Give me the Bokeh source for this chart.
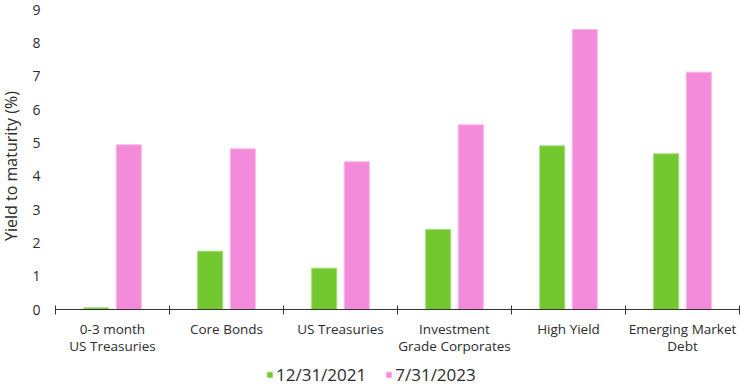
from bokeh.plotting import figure
from bokeh.models import Range1d, FixedTicker, Legend, LegendItem, ColumnDataSource
from bokeh.embed import file_html
from bokeh.resources import INLINE

# ---- data ----
categories = ["0-3 month\nUS Treasuries", "Core Bonds", "US Treasuries",
              "Investment\nGrade Corporates", "High Yield", "Emerging Market\nDebt"]
yield_2021 = [0.05, 1.75, 1.24, 2.40, 4.91, 4.67]
yield_2023 = [4.94, 4.82, 4.43, 5.54, 8.40, 7.12]
series_labels = ["12/31/2021", "7/31/2023"]
y_ticks = [0, 1, 2, 3, 4, 5, 6, 7, 8, 9]
y_title = "Yield to maturity (%)"

# ---- style ----
GREEN = "#73C72F"
GREEN_EDGE = "#A3DD7C"
PINK = "#F48ADA"
PINK_EDGE = "#F9B8EA"
TEXT = "#2B2B2B"
FONT = "Open Sans"

W, H = 740, 386
# plotting area in page pixels
PX_LEFT, PX_RIGHT, PX_TOP, PX_ZERO = 55, 739, 9, 309

n = len(categories)
centers = [i + 0.5 for i in range(n)]
off = 0.143
bw = 0.22

# extend ranges so that the whole figure is the frame (axes drawn inside)
xs = (PX_RIGHT - PX_LEFT) / n
ys = (PX_ZERO - PX_TOP) / (y_ticks[-1] - y_ticks[0])
x_range = Range1d(-PX_LEFT / xs, n + (W - PX_RIGHT) / xs)
y_range = Range1d(y_ticks[0] - (H - PX_ZERO) / ys, y_ticks[-1] + PX_TOP / ys)

src = ColumnDataSource(dict(
    x1=[c - off for c in centers], y1=yield_2021,
    x2=[c + off for c in centers], y2=yield_2023,
))

p = figure(width=W, height=H, output_backend="svg", toolbar_location=None,
           x_range=x_range, y_range=y_range,
           min_border=0, min_border_left=0, min_border_right=0,
           min_border_top=0, min_border_bottom=0)
p.outline_line_color = None
p.xgrid.visible = False
p.ygrid.visible = False
p.background_fill_color = "white"
p.border_fill_color = "white"

r1 = p.vbar(x="x1", top="y1", width=bw, source=src, fill_color=GREEN,
            line_color=GREEN_EDGE, line_width=1)
r2 = p.vbar(x="x2", top="y2", width=bw, source=src, fill_color=PINK,
            line_color=PINK_EDGE, line_width=1)

# x axis: labels at centres, boundary ticks as minor ticks
xa = p.xaxis[0]
xa.fixed_location = 0
xa.bounds = (0, n)
xa.ticker = FixedTicker(ticks=centers, minor_ticks=list(range(n + 1)))
xa.major_label_overrides = {c: lab for c, lab in zip(centers, categories)}
xa.major_tick_in = 0
xa.major_tick_out = 0
xa.minor_tick_in = 4
xa.minor_tick_out = 5
xa.minor_tick_line_color = "#333333"
xa.minor_tick_line_width = 1
xa.axis_line_color = "#333333"
xa.axis_line_width = 1
xa.major_label_standoff = 5
xa.major_label_text_font = FONT
xa.major_label_text_font_size = "13.5px"
xa.major_label_text_color = TEXT
xa.major_label_text_line_height = 0.95

ya = p.yaxis[0]
ya.fixed_location = 0
ya.bounds = (-0.4, y_ticks[-1])
ya.ticker = FixedTicker(ticks=y_ticks)
ya.axis_line_color = None
ya.major_tick_line_color = None
ya.minor_tick_line_color = None
ya.major_tick_in = 0
ya.major_tick_out = 0
ya.major_label_standoff = 15
ya.major_label_text_font = FONT
ya.major_label_text_font_size = "14px"
ya.major_label_text_color = TEXT
ya.axis_label = y_title
ya.axis_label_standoff = 7
ya.axis_label_text_font = FONT
ya.axis_label_text_font_size = "16px"
ya.axis_label_text_font_style = "normal"
ya.axis_label_text_color = TEXT

legend = Legend(items=[LegendItem(label=series_labels[0], renderers=[r1]),
                       LegendItem(label=series_labels[1], renderers=[r2])],
                orientation="horizontal", location=(266, 0),
                border_line_color=None, background_fill_alpha=0,
                glyph_width=7, glyph_height=7, label_standoff=3, spacing=19,
                padding=0, margin=0,
                label_text_font=FONT, label_text_font_size="17px",
                label_text_color=TEXT)
p.add_layout(legend, "center")

open("out.html", "w").write(file_html(p, INLINE))
